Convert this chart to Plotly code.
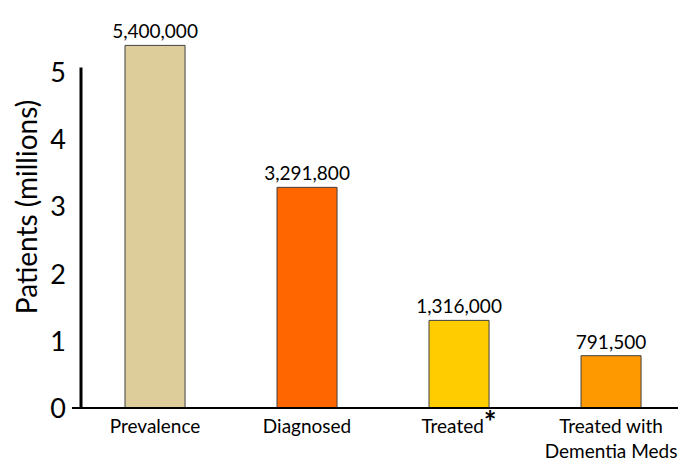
import plotly.graph_objects as go

# Patient funnel data
categories = ["Prevalence", "Diagnosed", "Treated", "Treated with<br>Dementia Meds"]
tick_text = ["Prevalence", "Diagnosed",
             "Treated<span style='font-size:30px'><b>*</b></span>",
             "Treated with<br>Dementia Meds"]
patients = [5400000, 3291800, 1316000, 791500]
bar_colors = ["#DDCD9B", "#FF6600", "#FFCC00", "#FF9900"]

y_millions = [v / 1e6 for v in patients]
labels = [f"{v:,}" for v in patients]

FONT = "Lato, Carlito, 'Open Sans', sans-serif"

fig = go.Figure(go.Bar(
    x=categories,
    y=y_millions,
    width=0.395,
    marker=dict(color=bar_colors, line=dict(color="#404040", width=1)),
    text=labels,
    textposition="outside",
    constraintext="none",
    textfont=dict(size=19, color="#000000", family=FONT),
    cliponaxis=False,
))

fig.update_layout(
    width=684, height=462,
    margin=dict(l=81, r=0, t=5, b=53),
    plot_bgcolor="white", paper_bgcolor="white",
    showlegend=False,
    font=dict(family=FONT, color="#000000"),
    xaxis=dict(
        range=[-0.487, 3.48],
        showline=False, showgrid=False, zeroline=False,
        tickmode="array", tickvals=categories, ticktext=tick_text,
        tickfont=dict(size=19, family=FONT),
        ticks="", ticklabelstandoff=4,
    ),
    yaxis=dict(
        range=[0, 6.0],
        tickvals=[0, 1, 2, 3, 4, 5],
        showline=False, showgrid=False, zeroline=False,
        tickfont=dict(size=27, family=FONT),
        ticks="", ticklabelstandoff=14,
        title=dict(text="Patients (millions)", font=dict(size=28, family=FONT), standoff=4),
    ),
    shapes=[
        # vertical axis line
        dict(type="line", xref="paper", yref="y", x0=0, x1=0, y0=0, y1=5.07,
             line=dict(color="black", width=3)),
        # baseline
        dict(type="line", xref="paper", yref="y", x0=-0.015, x1=0.99, y0=0, y1=0,
             line=dict(color="black", width=4)),
    ],
)

fig.write_html("out.html")
